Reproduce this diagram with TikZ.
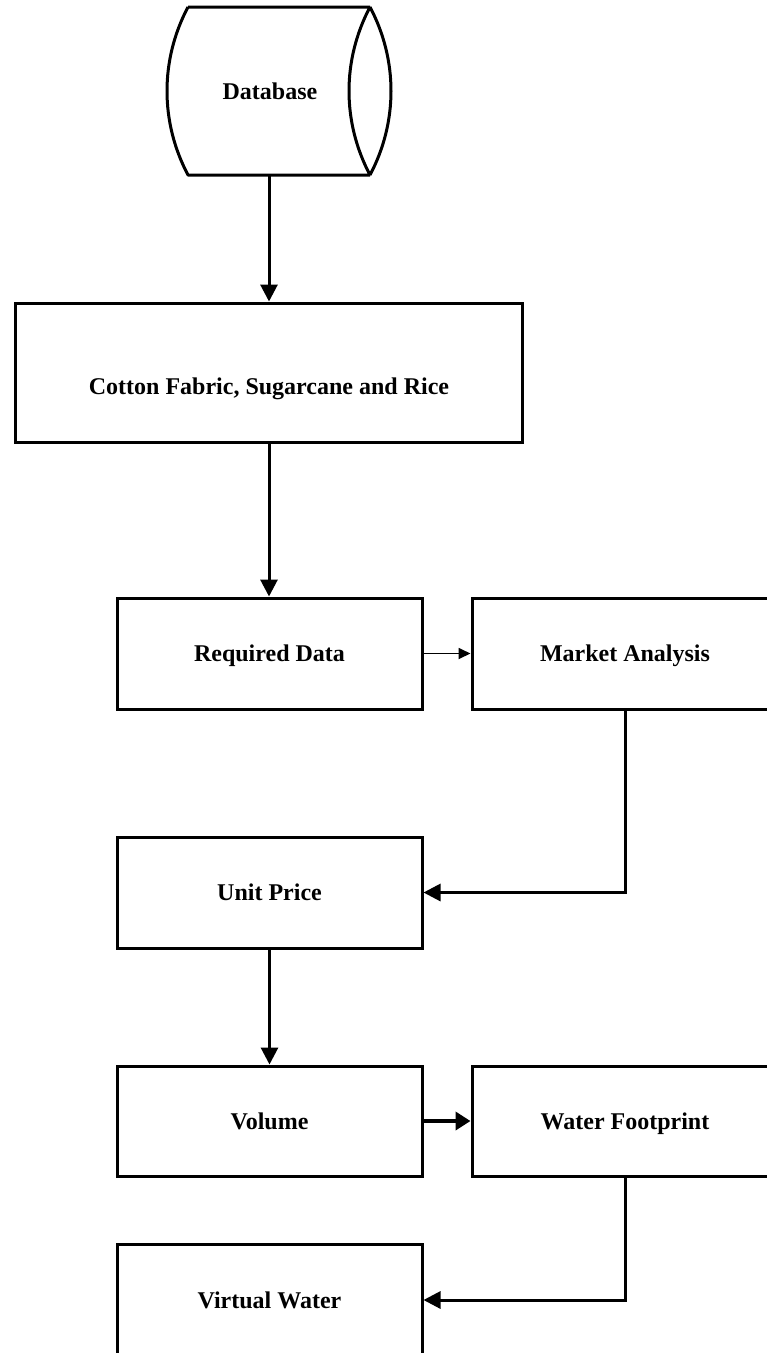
\documentclass[tikz,border=0pt]{standalone}
\usepackage{fontspec}
\setmainfont{Liberation Serif}
\usetikzlibrary{arrows.meta}
\begin{document}
\begin{tikzpicture}[x=1pt,y=-1pt,
  lbl/.style={font=\fontsize{24}{27}\selectfont\bfseries,text height=21pt,text depth=5pt},
  box/.style={lbl,draw,line width=3pt,minimum width=305pt,minimum height=111pt,inner sep=0pt},
  conn/.style={line width=3pt,-{Triangle[length=17pt,width=17pt]}},
  thinconn/.style={line width=1.8pt,-{Triangle[length=12pt,width=11pt]}},
  thickconn/.style={line width=4.5pt,-{Triangle[length=15pt,width=18pt]}}
]
\path[use as bounding box] (0,0) rectangle (767,1353);
\clip (0,0) rectangle (767,1353);

% Database (horizontal cylinder)
\draw[line width=3pt,line join=round]
  (188,7) -- (370,7)
  (188,7) .. controls (160,60) and (160,122) .. (188,175) -- (370,175)
  (370,7) .. controls (342,60) and (342,122) .. (370,175)
  (370,7) .. controls (398,60) and (398,122) .. (370,175);
\node[lbl] (db) at (270,91) {Database};
\coordinate (dbbot) at (269,175);

\node[box,minimum width=507pt,minimum height=139pt] (cotton) at (269,372.5) {};
\node[lbl] (cottonlbl) at ([yshift=-14pt]cotton.center) {Cotton Fabric, Sugarcane and Rice};
\node[box] (req) at (269.5,653.5) {Required Data};
\node[box,minimum width=306pt] (market) at (625,653.5) {Market Analysis};
\node[box] (unit) at (269.5,892.5) {Unit Price};
\node[box,minimum height=110pt] (vol) at (269.5,1121) {Volume};
\node[box,minimum width=306pt,minimum height=110pt] (wf) at (625,1121) {Water Footprint};
\node[box,minimum height=112pt] (vw) at (269.5,1300) {Virtual Water};

\draw[conn] (dbbot) -- (cotton.north);
\draw[conn] (cotton.south) -- (cotton.south |- req.north);
\draw[thinconn] (req) -- (market);
\draw[conn] (market.south) |- (unit.east);
\draw[conn] (unit) -- (vol);
\draw[thickconn] (vol) -- (wf);
\draw[conn] (wf.south) |- (vw.east);
\end{tikzpicture}
\end{document}
